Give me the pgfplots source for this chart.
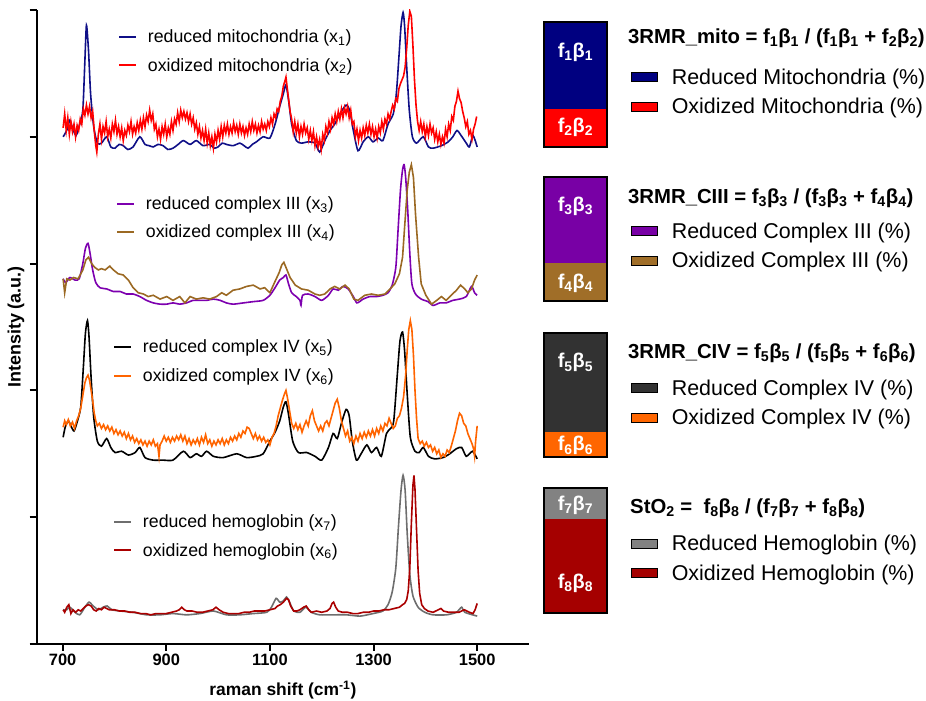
\documentclass[border=0pt]{standalone}
\usepackage{pgfplots}
\pgfplotsset{compat=1.18}
\usepackage{fontspec}
\setmainfont{Liberation Sans}
\definecolor{cNavy}{RGB}{15,15,135}
\definecolor{cRed}{RGB}{255,0,0}
\definecolor{cPurple}{RGB}{125,0,175}
\definecolor{cBrown}{RGB}{155,105,35}
\definecolor{cOrange}{RGB}{255,100,0}
\definecolor{cGray}{RGB}{110,110,110}
\definecolor{cDRed}{RGB}{170,0,0}
\definecolor{bNavy}{RGB}{0,0,128}
\definecolor{bPurple}{RGB}{120,0,165}
\definecolor{bBrown}{RGB}{160,110,40}
\definecolor{bDark}{RGB}{50,50,50}
\definecolor{bOrange}{RGB}{255,102,0}
\definecolor{bGray}{RGB}{130,130,130}
\definecolor{bDRed}{RGB}{165,0,0}
\pgfplotsset{
  specgeom/.style={at={(36.7bp,57bp)}, anchor=south west, scale only axis,
    width=492.3bp, height=634bp, xmin=650, xmax=1600, ymin=0, ymax=5},
  speclegend/.style={legend cell align=left,
    legend style={draw=none, fill=none, inner sep=0pt, row sep=10bp,
      font=\fontsize{17.8}{20}\selectfont, anchor=west, at={#1},
      /tikz/every odd column/.style={column sep=9bp}},
    legend image code/.code={\draw[##1, line width=1.8bp] (0bp,0bp) -- (17bp,0bp);}},
  spec/.style={line width=1.6bp, #1},
  baraxis/.style={scale only axis, width=63bp, xmin=-0.5, xmax=0.5, ymin=0, ymax=100,
    ybar stacked, bar width=63bp, xtick=\empty, ytick=\empty, clip=false,
    axis line style={line width=2bp}, axis on top, reverse legend,
    legend cell align=left,
    legend style={draw=none, fill=none, inner sep=0pt, row sep=8.5bp,
      font=\fontsize{21.5}{24}\selectfont, anchor=west,
      /tikz/every odd column/.style={column sep=12bp}}},
  barleg/.style={legend image code/.code={\draw[##1,draw=black,line width=1.3bp] (0bp,-4.5bp) rectangle (26bp,4.5bp);}},
}
\newcommand{\lab}{\bfseries\fontsize{20}{22}\selectfont}
\newcommand{\ttl}{\bfseries\fontsize{20.4}{22}\selectfont}
\begin{document}
\begin{tikzpicture}[x=1bp,y=1bp]
\useasboundingbox (0,0) rectangle (926,701);
% ---------- main spectra axis (mitochondria) ----------
\begin{axis}[specgeom,
  axis x line*=bottom, axis y line*=left, axis line style={line width=2bp,-},
  tick align=outside, major tick length=7bp, tick style={black, line width=2bp},
  ytick={0,1,2,3,4,5}, yticklabels={,,,,,,},
  xtick={700,900,1100,1300,1500}, xticklabels={700,900,1100,1300,1500},
  xticklabel style={font=\bfseries\fontsize{16.5}{18}\selectfont},
  xlabel={raman shift (cm\textsuperscript{-1})},
  xlabel style={font=\bfseries\fontsize{17.5}{20}\selectfont, at={(axis description cs:0.5,-0.0726)}, anchor=center},
  ylabel={Intensity (a.u.)},
  ylabel style={font=\bfseries\fontsize{18}{20}\selectfont, at={(axis description cs:-0.042,0.5)}, anchor=center},
  speclegend={(0.165,0.935)}]
\addplot[spec=cNavy, smooth, tension=0.4] coordinates {(701,4.00)(708,4.05)(714,4.13)(719,4.07)(726,4.01)(733,4.10)(739,4.21)(743,4.60)(746,4.88)(750,4.68)(754,4.34)(760,4.08)(767,3.95)(775,3.95)(785,4.00)(793,3.92)(801,3.91)(809,3.94)(817,3.93)(826,3.90)(836,3.92)(849,4.00)(859,3.94)(867,3.93)(875,3.92)(884,3.94)(894,3.93)(903,3.90)(913,3.91)(923,3.94)(933,3.97)(946,3.94)(958,3.97)(971,3.93)(984,3.94)(992,3.91)(1000,3.92)(1008,3.95)(1016,3.94)(1029,3.93)(1042,3.95)(1050,3.93)(1058,3.91)(1066,3.94)(1074,3.96)(1087,4.00)(1100,3.99)(1110,4.10)(1119,4.24)(1126,4.34)(1131,4.41)(1136,4.29)(1142,4.10)(1151,3.97)(1161,3.95)(1174,3.96)(1187,3.95)(1196,3.88)(1206,3.97)(1216,4.05)(1225,4.10)(1235,4.18)(1247,4.25)(1254,4.21)(1261,4.05)(1270,3.89)(1280,3.96)(1290,4.00)(1299,3.96)(1309,3.99)(1318,3.97)(1328,4.10)(1338,4.18)(1344,4.34)(1349,4.63)(1353,4.87)(1357,4.98)(1360,4.87)(1364,4.55)(1369,4.21)(1375,4.00)(1383,3.95)(1396,4.00)(1406,3.92)(1415,3.91)(1431,3.93)(1444,3.96)(1453,4.00)(1461,4.05)(1469,4.01)(1479,3.95)(1485,3.92)(1492,4.01)(1500,3.92)};
\addlegendentry{reduced mitochondria (x\textsubscript{1})}
\addplot[spec=cRed] coordinates {(701,4.07)(704,4.18)(707,4.05)(710,4.15)(713,4.02)(716,4.12)(719,4.04)(722,4.10)(725,4.00)(728,4.09)(731,4.05)(734,4.14)(737,4.10)(740,4.22)(743,4.17)(746,4.25)(749,4.18)(752,4.24)(755,4.15)(758,4.20)(761,4.05)(764,3.93)(766,3.88)(769,4.02)(772,4.10)(775,3.98)(778,4.08)(781,4.03)(784,4.12)(787,4.00)(790,4.06)(793,3.99)(796,4.10)(799,4.04)(802,4.13)(805,4.02)(808,4.08)(811,4.00)(814,4.07)(817,3.97)(820,4.05)(823,4.01)(826,4.09)(829,4.04)(832,4.12)(835,4.02)(838,4.08)(841,4.03)(844,4.11)(847,4.05)(850,4.13)(853,4.06)(856,4.15)(859,4.08)(862,4.17)(865,4.12)(868,4.21)(871,4.13)(874,4.18)(877,4.06)(880,4.10)(883,4.00)(886,4.06)(889,3.98)(892,4.08)(895,4.02)(898,4.10)(901,4.00)(904,4.07)(907,4.02)(910,4.12)(913,4.05)(916,4.14)(919,4.10)(922,4.19)(925,4.12)(928,4.21)(931,4.15)(934,4.20)(937,4.14)(940,4.19)(943,4.12)(946,4.18)(949,4.10)(952,4.15)(955,4.06)(958,4.11)(961,4.02)(964,4.08)(967,3.99)(970,4.05)(973,3.97)(976,4.06)(979,3.95)(982,4.03)(985,3.93)(988,4.00)(991,3.91)(994,4.02)(997,3.96)(1000,4.05)(1003,3.98)(1006,4.08)(1009,4.00)(1012,4.09)(1015,4.03)(1018,4.10)(1021,4.02)(1024,4.08)(1027,4.03)(1030,4.11)(1033,4.04)(1036,4.09)(1039,4.02)(1042,4.10)(1045,4.03)(1048,4.08)(1051,4.01)(1054,4.07)(1057,4.02)(1060,4.10)(1063,4.04)(1066,4.12)(1069,4.05)(1072,4.10)(1075,4.03)(1078,4.09)(1081,4.04)(1084,4.12)(1087,4.06)(1090,4.10)(1093,4.05)(1096,4.12)(1099,4.08)(1102,4.15)(1105,4.10)(1108,4.18)(1111,4.15)(1114,4.22)(1117,4.20)(1120,4.28)(1123,4.32)(1126,4.40)(1129,4.44)(1131,4.47)(1133,4.40)(1136,4.30)(1139,4.20)(1142,4.14)(1145,4.04)(1148,4.12)(1151,4.03)(1154,4.10)(1157,4.00)(1160,4.08)(1163,4.02)(1166,4.10)(1169,4.03)(1172,4.07)(1175,3.98)(1178,4.05)(1181,3.97)(1184,4.04)(1187,3.93)(1190,4.00)(1193,3.92)(1196,3.98)(1199,3.90)(1202,4.02)(1205,3.97)(1208,4.08)(1211,4.03)(1214,4.12)(1217,4.06)(1220,4.15)(1223,4.10)(1226,4.18)(1229,4.12)(1232,4.20)(1235,4.14)(1238,4.22)(1241,4.15)(1244,4.23)(1247,4.18)(1250,4.24)(1253,4.15)(1256,4.21)(1259,4.10)(1262,4.12)(1265,4.00)(1268,4.06)(1271,3.97)(1274,4.05)(1277,3.99)(1280,4.07)(1283,4.01)(1286,4.09)(1289,4.03)(1292,4.10)(1295,4.02)(1298,4.08)(1301,4.00)(1304,4.06)(1307,3.99)(1310,4.08)(1313,4.03)(1316,4.12)(1319,4.06)(1322,4.14)(1325,4.10)(1328,4.18)(1331,4.14)(1334,4.20)(1337,4.25)(1340,4.22)(1343,4.30)(1346,4.28)(1349,4.38)(1352,4.42)(1355,4.45)(1358,4.48)(1361,4.55)(1364,4.70)(1367,4.88)(1370,4.99)(1373,4.95)(1376,4.72)(1379,4.45)(1382,4.25)(1385,4.12)(1388,4.05)(1391,4.12)(1394,4.04)(1397,4.10)(1400,4.00)(1403,4.08)(1406,4.01)(1409,4.10)(1412,4.03)(1415,4.07)(1418,3.98)(1421,4.04)(1424,3.96)(1427,4.02)(1430,3.94)(1433,4.00)(1436,3.95)(1439,4.06)(1442,4.00)(1445,4.10)(1448,4.05)(1451,4.16)(1454,4.13)(1457,4.24)(1460,4.28)(1463,4.36)(1466,4.30)(1469,4.27)(1472,4.20)(1475,4.15)(1478,4.08)(1481,4.12)(1484,4.02)(1487,4.05)(1490,3.98)(1493,4.06)(1496,4.10)(1499,4.16)};
\addlegendentry{oxidized mitochondria (x\textsubscript{2})}
\end{axis}
% ---------- complex III ----------
\begin{axis}[specgeom, hide axis, speclegend={(0.161,0.672)}]
\addplot[spec=cPurple, smooth, tension=0.4] coordinates {(701,2.88)(706,2.85)(714,2.89)(724,2.87)(732,2.88)(739,3.00)(744,3.12)(749,3.16)(753,3.08)(758,2.95)(764,2.85)(772,2.81)(785,2.80)(798,2.78)(811,2.78)(823,2.76)(836,2.76)(849,2.74)(862,2.71)(875,2.69)(888,2.68)(901,2.68)(913,2.69)(926,2.68)(939,2.69)(952,2.71)(965,2.71)(978,2.71)(991,2.72)(1004,2.71)(1016,2.69)(1029,2.68)(1049,2.69)(1068,2.70)(1087,2.71)(1100,2.75)(1110,2.81)(1119,2.87)(1126,2.89)(1131,2.91)(1136,2.84)(1142,2.77)(1151,2.74)(1158,2.71)(1160,2.67)(1163,2.75)(1174,2.76)(1187,2.74)(1200,2.71)(1213,2.75)(1222,2.80)(1232,2.79)(1241,2.82)(1251,2.80)(1261,2.74)(1268,2.69)(1280,2.72)(1293,2.74)(1306,2.74)(1318,2.75)(1328,2.77)(1336,2.83)(1343,2.97)(1347,3.24)(1352,3.58)(1356,3.74)(1359,3.78)(1362,3.68)(1366,3.42)(1370,3.08)(1374,2.84)(1381,2.76)(1392,2.72)(1405,2.70)(1415,2.67)(1428,2.69)(1440,2.69)(1453,2.71)(1466,2.72)(1479,2.74)(1489,2.82)(1495,2.77)(1500,2.75)};
\addlegendentry{reduced complex III (x\textsubscript{3})}
\addplot[spec=cBrown] coordinates {(701,2.88)(704,2.77)(708,2.88)(714,2.87)(721,2.89)(730,2.88)(739,2.95)(745,3.03)(750,3.05)(756,3.00)(762,2.97)(769,2.95)(775,2.96)(782,2.95)(791,2.98)(798,2.95)(807,2.92)(817,2.91)(827,2.87)(836,2.81)(846,2.77)(856,2.76)(865,2.74)(875,2.75)(888,2.72)(901,2.74)(913,2.71)(926,2.74)(936,2.69)(946,2.74)(958,2.72)(971,2.73)(984,2.72)(997,2.74)(1007,2.77)(1016,2.75)(1029,2.79)(1042,2.80)(1055,2.82)(1068,2.83)(1081,2.80)(1090,2.81)(1100,2.77)(1110,2.86)(1118,2.93)(1123,2.99)(1127,3.01)(1132,2.96)(1139,2.89)(1149,2.83)(1161,2.80)(1174,2.79)(1187,2.76)(1196,2.75)(1206,2.76)(1216,2.80)(1225,2.82)(1235,2.80)(1245,2.83)(1253,2.80)(1262,2.72)(1270,2.71)(1283,2.75)(1296,2.76)(1309,2.75)(1322,2.76)(1332,2.80)(1341,2.84)(1350,2.92)(1356,3.05)(1360,3.29)(1365,3.58)(1369,3.72)(1373,3.78)(1377,3.68)(1381,3.39)(1387,3.05)(1392,2.84)(1401,2.75)(1412,2.68)(1422,2.71)(1431,2.74)(1440,2.71)(1450,2.75)(1460,2.79)(1468,2.83)(1476,2.80)(1482,2.77)(1489,2.80)(1495,2.87)(1500,2.91)};
\addlegendentry{oxidized complex III (x\textsubscript{4})}
\end{axis}
% ---------- complex IV ----------
\begin{axis}[specgeom, hide axis, speclegend={(0.155,0.4456)}]
\addplot[spec=black, smooth, tension=0.4] coordinates {(701,1.63)(705,1.71)(711,1.76)(716,1.72)(722,1.68)(728,1.75)(735,1.87)(740,2.18)(744,2.45)(748,2.55)(751,2.42)(755,2.10)(760,1.79)(767,1.60)(775,1.56)(785,1.62)(793,1.55)(801,1.51)(814,1.52)(827,1.49)(840,1.51)(849,1.55)(859,1.47)(875,1.45)(894,1.45)(913,1.45)(933,1.52)(946,1.47)(958,1.50)(968,1.48)(978,1.52)(991,1.48)(1010,1.47)(1036,1.50)(1055,1.47)(1074,1.48)(1087,1.50)(1100,1.60)(1110,1.67)(1119,1.76)(1126,1.87)(1131,1.91)(1136,1.81)(1144,1.60)(1155,1.51)(1171,1.51)(1187,1.48)(1200,1.45)(1213,1.55)(1222,1.66)(1230,1.62)(1238,1.74)(1247,1.85)(1253,1.80)(1259,1.60)(1267,1.45)(1276,1.50)(1287,1.57)(1296,1.51)(1306,1.55)(1315,1.48)(1325,1.66)(1333,1.70)(1339,1.76)(1346,2.13)(1351,2.39)(1356,2.46)(1360,2.31)(1365,1.97)(1371,1.63)(1380,1.52)(1388,1.51)(1396,1.55)(1406,1.48)(1418,1.46)(1434,1.47)(1447,1.50)(1460,1.54)(1470,1.55)(1479,1.48)(1491,1.52)(1500,1.46)};
\addlegendentry{reduced complex IV (x\textsubscript{5})}
\addplot[spec=cOrange] coordinates {(701,1.71)(704,1.76)(707,1.73)(711,1.77)(715,1.72)(719,1.75)(723,1.70)(727,1.76)(731,1.80)(735,1.86)(739,1.96)(743,2.06)(746,2.10)(749,2.12)(752,2.08)(755,2.00)(758,1.92)(761,1.82)(764,1.76)(767,1.72)(771,1.74)(775,1.70)(779,1.73)(783,1.69)(787,1.72)(791,1.68)(795,1.71)(799,1.66)(803,1.69)(807,1.65)(811,1.68)(815,1.64)(819,1.67)(823,1.62)(827,1.66)(831,1.61)(835,1.64)(839,1.59)(843,1.62)(847,1.58)(851,1.61)(855,1.57)(859,1.60)(863,1.56)(867,1.60)(871,1.57)(875,1.61)(879,1.56)(883,1.58)(886,1.48)(888,1.57)(892,1.60)(896,1.64)(900,1.60)(904,1.63)(908,1.59)(912,1.63)(916,1.60)(920,1.64)(924,1.61)(928,1.65)(932,1.60)(936,1.64)(940,1.58)(944,1.62)(948,1.57)(952,1.61)(956,1.58)(960,1.62)(964,1.57)(968,1.63)(972,1.59)(976,1.65)(980,1.58)(984,1.61)(988,1.56)(992,1.60)(996,1.57)(1000,1.61)(1004,1.58)(1008,1.62)(1012,1.57)(1016,1.61)(1020,1.58)(1024,1.63)(1028,1.60)(1032,1.64)(1036,1.61)(1040,1.66)(1044,1.63)(1048,1.68)(1052,1.66)(1056,1.71)(1060,1.70)(1064,1.66)(1068,1.62)(1072,1.66)(1076,1.61)(1080,1.64)(1084,1.60)(1088,1.63)(1092,1.59)(1096,1.61)(1100,1.57)(1104,1.63)(1108,1.66)(1112,1.72)(1116,1.80)(1120,1.86)(1124,1.92)(1128,1.97)(1131,2.00)(1134,1.94)(1138,1.84)(1142,1.74)(1146,1.70)(1150,1.74)(1154,1.69)(1158,1.73)(1162,1.67)(1166,1.72)(1170,1.76)(1174,1.72)(1178,1.80)(1182,1.84)(1186,1.76)(1190,1.72)(1194,1.68)(1198,1.72)(1202,1.68)(1206,1.74)(1210,1.76)(1214,1.72)(1218,1.78)(1222,1.84)(1226,1.90)(1230,1.93)(1234,1.86)(1238,1.76)(1242,1.70)(1246,1.64)(1250,1.68)(1254,1.60)(1258,1.63)(1262,1.58)(1266,1.64)(1270,1.60)(1274,1.66)(1278,1.62)(1282,1.67)(1286,1.63)(1290,1.68)(1294,1.64)(1298,1.69)(1302,1.64)(1306,1.70)(1310,1.66)(1314,1.72)(1318,1.68)(1322,1.74)(1326,1.72)(1330,1.78)(1334,1.74)(1338,1.70)(1342,1.72)(1346,1.78)(1350,1.80)(1354,1.86)(1358,1.95)(1362,2.12)(1365,2.32)(1368,2.48)(1371,2.55)(1374,2.48)(1377,2.28)(1380,2.00)(1383,1.78)(1386,1.62)(1390,1.58)(1394,1.60)(1398,1.56)(1402,1.59)(1406,1.55)(1410,1.57)(1414,1.52)(1418,1.55)(1422,1.50)(1426,1.53)(1430,1.47)(1434,1.50)(1438,1.48)(1442,1.53)(1446,1.51)(1450,1.56)(1454,1.62)(1458,1.68)(1462,1.76)(1466,1.82)(1470,1.80)(1474,1.74)(1478,1.72)(1482,1.66)(1486,1.62)(1490,1.58)(1493,1.54)(1495,1.48)(1497,1.60)(1500,1.72)};
\addlegendentry{oxidized complex IV (x\textsubscript{6})}
\end{axis}
% ---------- hemoglobin ----------
\begin{axis}[specgeom, hide axis, speclegend={(0.155,0.17)}]
\addplot[spec=cGray, smooth, tension=0.4] coordinates {(701,0.27)(708,0.27)(714,0.29)(724,0.25)(733,0.23)(743,0.29)(751,0.33)(759,0.30)(769,0.27)(778,0.29)(786,0.30)(795,0.27)(811,0.26)(836,0.25)(862,0.23)(888,0.23)(913,0.24)(939,0.23)(965,0.24)(991,0.26)(1016,0.23)(1042,0.23)(1068,0.24)(1094,0.25)(1103,0.29)(1112,0.36)(1119,0.33)(1126,0.34)(1132,0.37)(1138,0.33)(1146,0.26)(1158,0.25)(1169,0.29)(1180,0.25)(1196,0.23)(1222,0.23)(1248,0.23)(1274,0.22)(1299,0.24)(1318,0.26)(1328,0.31)(1336,0.41)(1343,0.60)(1348,0.92)(1353,1.21)(1357,1.33)(1361,1.21)(1365,0.87)(1370,0.55)(1376,0.38)(1386,0.29)(1399,0.25)(1415,0.23)(1441,0.23)(1460,0.25)(1470,0.29)(1476,0.25)(1500,0.22)};
\addlegendentry{reduced hemoglobin (x\textsubscript{7})}
\addplot[spec=cDRed] coordinates {(701,0.27)(704,0.25)(708,0.29)(712,0.31)(716,0.24)(720,0.27)(725,0.25)(730,0.27)(735,0.26)(740,0.28)(745,0.30)(750,0.31)(755,0.30)(760,0.27)(765,0.26)(770,0.28)(775,0.27)(780,0.29)(785,0.28)(790,0.27)(800,0.27)(810,0.26)(820,0.26)(830,0.25)(840,0.25)(850,0.24)(860,0.24)(870,0.23)(880,0.24)(890,0.24)(900,0.24)(910,0.25)(920,0.26)(925,0.27)(930,0.29)(935,0.27)(940,0.26)(950,0.26)(960,0.25)(970,0.25)(980,0.26)(990,0.27)(996,0.29)(1002,0.27)(1010,0.25)(1020,0.24)(1030,0.24)(1040,0.24)(1050,0.25)(1060,0.25)(1070,0.26)(1080,0.26)(1090,0.26)(1100,0.27)(1110,0.28)(1115,0.30)(1120,0.31)(1126,0.33)(1132,0.36)(1136,0.35)(1140,0.30)(1146,0.26)(1152,0.26)(1158,0.27)(1165,0.29)(1170,0.30)(1175,0.27)(1180,0.25)(1190,0.26)(1200,0.25)(1210,0.26)(1216,0.28)(1220,0.32)(1223,0.33)(1227,0.29)(1232,0.26)(1240,0.25)(1250,0.25)(1260,0.24)(1270,0.24)(1280,0.25)(1290,0.25)(1300,0.26)(1310,0.26)(1320,0.27)(1330,0.27)(1340,0.28)(1350,0.29)(1356,0.31)(1360,0.32)(1364,0.35)(1367,0.42)(1370,0.60)(1373,0.95)(1376,1.25)(1378,1.33)(1380,1.22)(1383,0.90)(1386,0.58)(1389,0.40)(1393,0.31)(1398,0.28)(1405,0.26)(1415,0.25)(1425,0.27)(1430,0.28)(1435,0.26)(1445,0.25)(1455,0.25)(1465,0.25)(1475,0.27)(1485,0.25)(1492,0.24)(1496,0.27)(1500,0.32)};
\addlegendentry{oxidized hemoglobin (x\textsubscript{6})}
\end{axis}
% ---------- bar 1: mitochondria ----------
\begin{axis}[baraxis, at={(544bp,554bp)}, anchor=south west, height=125bp,
  legend style={at={(axis description cs:1.37,0.44)}},
  after end axis/.code={
    \node[font=\lab, text=white] at (axis cs:0,76) {f\textsubscript{1}β\textsubscript{1}};
    \node[font=\lab, text=white] at (axis cs:0,16) {f\textsubscript{2}β\textsubscript{2}};
    \node[font=\ttl, anchor=west, inner sep=0pt] at (axis description cs:1.333,0.872) {3RMR\_mito = f\textsubscript{1}β\textsubscript{1} / (f\textsubscript{1}β\textsubscript{1} + f\textsubscript{2}β\textsubscript{2})};
  }]
\addplot[fill=cRed, draw=none, barleg] coordinates {(0,30)};
\addlegendentry{Oxidized Mitochondria (\%)}
\addplot[fill=bNavy, draw=none, barleg] coordinates {(0,70)};
\addlegendentry{Reduced Mitochondria (\%)}
\end{axis}
% ---------- bar 2: complex III ----------
\begin{axis}[baraxis, at={(544bp,400bp)}, anchor=south west, height=124bp,
  legend style={at={(axis description cs:1.37,0.444)}},
  after end axis/.code={
    \node[font=\lab, text=white] at (axis cs:0,76) {f\textsubscript{3}β\textsubscript{3}};
    \node[font=\lab, text=white] at (axis cs:0,14) {f\textsubscript{4}β\textsubscript{4}};
    \node[font=\ttl, anchor=west, inner sep=0pt] at (axis description cs:1.333,0.83) {3RMR\_CIII = f\textsubscript{3}β\textsubscript{3} / (f\textsubscript{3}β\textsubscript{3} + f\textsubscript{4}β\textsubscript{4})};
  }]
\addplot[fill=bBrown, draw=none, barleg] coordinates {(0,31)};
\addlegendentry{Oxidized Complex III (\%)}
\addplot[fill=bPurple, draw=none, barleg] coordinates {(0,69)};
\addlegendentry{Reduced Complex III (\%)}
\end{axis}
% ---------- bar 3: complex IV ----------
\begin{axis}[baraxis, at={(544bp,244bp)}, anchor=south west, height=124bp,
  legend style={at={(axis description cs:1.37,0.435)}},
  after end axis/.code={
    \node[font=\lab, text=white] at (axis cs:0,76) {f\textsubscript{5}β\textsubscript{5}};
    \node[font=\lab, text=white] at (axis cs:0,9) {f\textsubscript{6}β\textsubscript{6}};
    \node[font=\ttl, anchor=west, inner sep=0pt] at (axis description cs:1.333,0.839) {3RMR\_CIV = f\textsubscript{5}β\textsubscript{5} / (f\textsubscript{5}β\textsubscript{5} + f\textsubscript{6}β\textsubscript{6})};
  }]
\addplot[fill=bOrange, draw=none, barleg] coordinates {(0,20)};
\addlegendentry{Oxidized Complex IV (\%)}
\addplot[fill=bDark, draw=none, barleg] coordinates {(0,80)};
\addlegendentry{Reduced Complex IV (\%)}
\end{axis}
% ---------- bar 4: hemoglobin ----------
\begin{axis}[baraxis, at={(544bp,88bp)}, anchor=south west, height=125bp,
  legend style={at={(axis description cs:1.37,0.436)}},
  after end axis/.code={
    \node[font=\lab, text=white] at (axis cs:0,86) {f\textsubscript{7}β\textsubscript{7}};
    \node[font=\lab, text=white] at (axis cs:0,24) {f\textsubscript{8}β\textsubscript{8}};
    \node[font=\ttl, anchor=west, inner sep=0pt] at (axis description cs:1.365,0.84) {StO\textsubscript{2} =\ \ f\textsubscript{8}β\textsubscript{8} / (f\textsubscript{7}β\textsubscript{7} + f\textsubscript{8}β\textsubscript{8})};
  }]
\addplot[fill=bDRed, draw=none, barleg] coordinates {(0,75)};
\addlegendentry{Oxidized Hemoglobin (\%)}
\addplot[fill=bGray, draw=none, barleg] coordinates {(0,25)};
\addlegendentry{Reduced Hemoglobin (\%)}
\end{axis}
\end{tikzpicture}
\end{document}
